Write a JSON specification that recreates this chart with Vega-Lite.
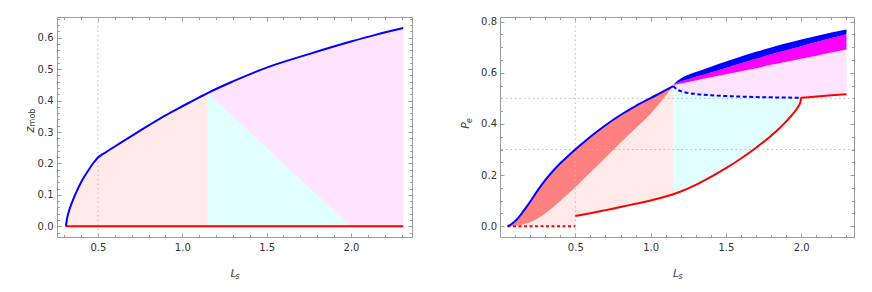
{
"$schema": "https://vega.github.io/schema/vega-lite/v6.json",
"padding": {"left": 22, "top": 16, "right": 0, "bottom": 0},
"background": "white",
"spacing": 88,
"bounds": "flush",
"config": {
  "view": {"stroke": "#9c9c9c", "strokeWidth": 1},
  "axis": {"domain": false, "grid": false, "tickColor": "#9c9c9c", "tickWidth": 1, "labelFont": "DejaVu Sans", "labelFontSize": 10, "labelColor": "#333333", "titleFont": "DejaVu Sans", "titleFontWeight": "normal", "titleFontStyle": "italic", "titleColor": "#444444", "labelFlush": false, "labelOverlap": false},
  "line": {"interpolate": "monotone"},
  "area": {"interpolate": "monotone"}
},
"datasets": {
  "zb": [
    {"Ls":0.31,"z":0},{"Ls":0.315,"z":0.02},{"Ls":0.32,"z":0.033},{"Ls":0.33,"z":0.052},{"Ls":0.34,"z":0.068},{"Ls":0.35,"z":0.082},{"Ls":0.375,"z":0.113},{"Ls":0.4,"z":0.14},{"Ls":0.425,"z":0.163},{"Ls":0.45,"z":0.184},{"Ls":0.475,"z":0.203},{"Ls":0.5,"z":0.219},{"Ls":0.525,"z":0.229},{"Ls":0.55,"z":0.237},{"Ls":0.6,"z":0.254},{"Ls":0.7,"z":0.288},{"Ls":0.8,"z":0.321},{"Ls":0.9,"z":0.353},{"Ls":1.0,"z":0.382},{"Ls":1.1,"z":0.41},{"Ls":1.15,"z":0.424},{"Ls":1.3,"z":0.461},{"Ls":1.5,"z":0.505},{"Ls":1.75,"z":0.548},{"Ls":2.0,"z":0.588},{"Ls":2.15,"z":0.61},{"Ls":2.31,"z":0.631}
  ],
  "zred": [{"Ls":0.31,"v":0},{"Ls":2.31,"v":0}],
  "ztri": [{"Ls":1.15,"v":0.424},{"Ls":2.0,"v":0}],
  "zgrid": [{"g":0.5}],
  "pe": [
    {"Ls":0.05,"b":0,"s":0,"f":0},{"Ls":0.075,"b":0.008,"s":0.0005,"f":0},{"Ls":0.1,"b":0.02,"s":0.002,"f":0},{"Ls":0.125,"b":0.036,"s":0.004,"f":0},{"Ls":0.15,"b":0.055,"s":0.007,"f":0},{"Ls":0.175,"b":0.075,"s":0.011,"f":0},{"Ls":0.2,"b":0.096,"s":0.016,"f":0},{"Ls":0.25,"b":0.14,"s":0.03,"f":0},{"Ls":0.3,"b":0.18,"s":0.05,"f":0},{"Ls":0.35,"b":0.215,"s":0.073,"f":0},{"Ls":0.4,"b":0.246,"s":0.099,"f":0},{"Ls":0.45,"b":0.274,"s":0.125,"f":0},{"Ls":0.5,"b":0.3,"s":0.152,"f":0},{"Ls":0.501,"b":0.3005,"s":0.1526,"f":0.04},{"Ls":0.6,"b":0.35,"s":0.21,"f":0.051},{"Ls":0.7,"b":0.395,"s":0.268,"f":0.063},{"Ls":0.8,"b":0.435,"s":0.326,"f":0.075},{"Ls":0.9,"b":0.47,"s":0.383,"f":0.088},{"Ls":1.0,"b":0.501,"s":0.44,"f":0.101},{"Ls":1.1,"b":0.532,"s":0.51,"f":0.116},{"Ls":1.15,"b":0.548,"s":0.548,"f":0.125}
  ],
  "red": [
    {"Ls":0.5,"r":0.04},{"Ls":0.6,"r":0.051},{"Ls":0.7,"r":0.063},{"Ls":0.8,"r":0.075},{"Ls":0.9,"r":0.088},{"Ls":1.0,"r":0.101},{"Ls":1.1,"r":0.116},{"Ls":1.15,"r":0.125},{"Ls":1.2,"r":0.136},{"Ls":1.3,"r":0.162},{"Ls":1.4,"r":0.193},{"Ls":1.5,"r":0.227},{"Ls":1.6,"r":0.265},{"Ls":1.7,"r":0.307},{"Ls":1.8,"r":0.354},{"Ls":1.85,"r":0.38},{"Ls":1.9,"r":0.41},{"Ls":1.95,"r":0.443},{"Ls":1.98,"r":0.468},{"Ls":1.995,"r":0.487},{"Ls":2.0,"r":0.502},{"Ls":2.1,"r":0.507},{"Ls":2.2,"r":0.512},{"Ls":2.3,"r":0.516}
  ],
  "cyan": [
    {"Ls":1.15,"d":0.548,"r":0.125},{"Ls":1.175,"d":0.535,"r":0.13},{"Ls":1.2,"d":0.528,"r":0.136},{"Ls":1.25,"d":0.521,"r":0.148},{"Ls":1.3,"d":0.517,"r":0.162},{"Ls":1.4,"d":0.512,"r":0.193},{"Ls":1.5,"d":0.509,"r":0.227},{"Ls":1.6,"d":0.507,"r":0.265},{"Ls":1.7,"d":0.505,"r":0.307},{"Ls":1.8,"d":0.504,"r":0.354},{"Ls":1.85,"d":0.5035,"r":0.38},{"Ls":1.9,"d":0.503,"r":0.41},{"Ls":1.95,"d":0.5025,"r":0.443},{"Ls":1.98,"d":0.502,"r":0.468},{"Ls":1.995,"d":0.502,"r":0.487},{"Ls":2.0,"d":0.502,"r":0.502}
  ],
  "upper": [
    {"Ls":1.15,"t":0.552,"m":0.552,"l":0.552,"f":0.548},{"Ls":1.175,"t":0.568,"m":0.56,"l":0.555,"f":0.535},{"Ls":1.2,"t":0.578,"m":0.566,"l":0.558,"f":0.528},{"Ls":1.25,"t":0.592,"m":0.575,"l":0.564,"f":0.521},{"Ls":1.3,"t":0.603,"m":0.584,"l":0.57,"f":0.517},{"Ls":1.4,"t":0.624,"m":0.601,"l":0.582,"f":0.512},{"Ls":1.5,"t":0.644,"m":0.619,"l":0.594,"f":0.509},{"Ls":1.6,"t":0.664,"m":0.637,"l":0.606,"f":0.507},{"Ls":1.7,"t":0.682,"m":0.655,"l":0.618,"f":0.505},{"Ls":1.8,"t":0.699,"m":0.672,"l":0.631,"f":0.504},{"Ls":1.9,"t":0.715,"m":0.688,"l":0.643,"f":0.503},{"Ls":2.0,"t":0.73,"m":0.704,"l":0.655,"f":0.502},{"Ls":2.1,"t":0.744,"m":0.72,"l":0.667,"f":0.507},{"Ls":2.2,"t":0.757,"m":0.736,"l":0.679,"f":0.512},{"Ls":2.3,"t":0.769,"m":0.751,"l":0.691,"f":0.516}
  ],
  "zero": [{"Ls":0.05,"v":0},{"Ls":0.5,"v":0}],
  "pgx": [{"g":0.5}],
  "pgy": [{"g":0.3},{"g":0.5}]
},
"hconcat": [
  {
    "width": 355, "height": 220,
    "resolve": {"axis": {"x": "independent", "y": "independent"}},
    "layer": [
      {
        "data": {"name": "zb"},
        "transform": [{"filter": "datum.Ls <= 1.15"}],
        "mark": {"type": "area", "color": "#ffe9e9"},
        "encoding": {
          "x": {"field": "Ls", "type": "quantitative", "scale": {"domain": [0.257, 2.362], "nice": false, "zero": false},
                "axis": {"orient": "bottom", "values": [0.5, 1, 1.5, 2], "format": ".1f", "ticks": false, "labelPadding": 5, "title": "L", "titleFontSize": 11, "titleX": 176, "titleY": 39, "titleBaseline": "alphabetic", "titleAlign": "center"}},
          "y": {"field": "z", "type": "quantitative", "scale": {"domain": [-0.034, 0.666], "nice": false, "zero": false},
                "axis": {"orient": "left", "values": [0, 0.1, 0.2, 0.3, 0.4, 0.5, 0.6], "format": ".1f", "ticks": false, "labelPadding": 4, "title": "z", "titleFontSize": 12, "titleAngle": 270, "titleX": -24, "titleY": 112, "titleBaseline": "alphabetic", "titleAlign": "center"}},
          "y2": {"datum": 0}
        }
      },
      {
        "data": {"name": "zb"},
        "transform": [{"filter": "datum.Ls >= 1.15"}],
        "mark": {"type": "area", "color": "#ffe3ff"},
        "encoding": {
          "x": {"field": "Ls", "type": "quantitative", "scale": {"domain": [0.257, 2.362], "nice": false, "zero": false},
                "axis": {"orient": "bottom", "values": [0.5, 1, 1.5, 2], "labels": false, "tickSize": -4, "title": "s", "titleFontSize": 8.5, "titleX": 180, "titleY": 41, "titleBaseline": "alphabetic", "titleAlign": "center"}},
          "y": {"field": "z", "type": "quantitative", "scale": {"domain": [-0.034, 0.666], "nice": false, "zero": false},
                "axis": {"orient": "left", "values": [0, 0.1, 0.2, 0.3, 0.4, 0.5, 0.6], "labels": false, "tickSize": -4, "title": "mob", "titleFontStyle": "normal", "titleFontSize": 8, "titleAngle": 270, "titleX": -22.5, "titleY": 100, "titleBaseline": "alphabetic", "titleAlign": "center"}},
          "y2": {"datum": 0}
        }
      },
      {
        "data": {"name": "ztri"},
        "mark": {"type": "area", "color": "#e2ffff", "interpolate": "linear"},
        "encoding": {
          "x": {"field": "Ls", "type": "quantitative", "scale": {"domain": [0.257, 2.362], "nice": false, "zero": false},
                "axis": {"orient": "bottom", "values": [0.3, 0.4, 0.6, 0.7, 0.8, 0.9, 1.1, 1.2, 1.3, 1.4, 1.6, 1.7, 1.8, 1.9, 2.1, 2.2, 2.3], "labels": false, "tickSize": -2.5, "title": null}},
          "y": {"field": "v", "type": "quantitative", "scale": {"domain": [-0.034, 0.666], "nice": false, "zero": false},
                "axis": {"orient": "left", "values": [-0.02, 0.02, 0.04, 0.06, 0.08, 0.12, 0.14, 0.16, 0.18, 0.22, 0.24, 0.26, 0.28, 0.32, 0.34, 0.36, 0.38, 0.42, 0.44, 0.46, 0.48, 0.52, 0.54, 0.56, 0.58, 0.62, 0.64, 0.66], "labels": false, "tickSize": -2.5, "title": null}},
          "y2": {"datum": 0}
        }
      },
      {
        "data": {"name": "zgrid"},
        "mark": {"type": "rule", "color": "#bdbdbd", "strokeWidth": 1, "strokeDash": [1.5, 3]},
        "encoding": {
          "x": {"field": "g", "type": "quantitative", "scale": {"domain": [0.257, 2.362], "nice": false, "zero": false},
                "axis": {"orient": "top", "values": [0.5, 1, 1.5, 2], "labels": false, "tickSize": -4, "title": null}}
        }
      },
      {
        "data": {"name": "zred"},
        "mark": {"type": "line", "color": "#ff0000", "strokeWidth": 2},
        "encoding": {
          "x": {"field": "Ls", "type": "quantitative", "scale": {"domain": [0.257, 2.362], "nice": false, "zero": false},
                "axis": {"orient": "top", "values": [0.3, 0.4, 0.6, 0.7, 0.8, 0.9, 1.1, 1.2, 1.3, 1.4, 1.6, 1.7, 1.8, 1.9, 2.1, 2.2, 2.3], "labels": false, "tickSize": -2.5, "title": null}},
          "y": {"field": "v", "type": "quantitative", "scale": {"domain": [-0.034, 0.666], "nice": false, "zero": false},
                "axis": {"orient": "right", "values": [0, 0.1, 0.2, 0.3, 0.4, 0.5, 0.6], "labels": false, "tickSize": -4, "title": null}}
        }
      },
      {
        "data": {"name": "zb"},
        "mark": {"type": "line", "color": "#0000ff", "strokeWidth": 2},
        "encoding": {
          "x": {"field": "Ls", "type": "quantitative", "scale": {"domain": [0.257, 2.362], "nice": false, "zero": false}, "axis": null},
          "y": {"field": "z", "type": "quantitative", "scale": {"domain": [-0.034, 0.666], "nice": false, "zero": false},
                "axis": {"orient": "right", "values": [-0.02, 0.02, 0.04, 0.06, 0.08, 0.12, 0.14, 0.16, 0.18, 0.22, 0.24, 0.26, 0.28, 0.32, 0.34, 0.36, 0.38, 0.42, 0.44, 0.46, 0.48, 0.52, 0.54, 0.56, 0.58, 0.62, 0.64, 0.66], "labels": false, "tickSize": -2.5, "title": null}}
        }
      }
    ]
  },
  {
    "width": 354, "height": 220,
    "resolve": {"axis": {"x": "independent", "y": "independent"}},
    "layer": [
      {
        "data": {"name": "pe"},
        "mark": {"type": "area", "color": "#ffe9e9"},
        "encoding": {
          "x": {"field": "Ls", "type": "quantitative", "scale": {"domain": [0, 2.35], "nice": false, "zero": false},
                "axis": {"orient": "bottom", "values": [0.5, 1, 1.5, 2], "format": ".1f", "ticks": false, "labelPadding": 5, "title": "L", "titleFontSize": 11, "titleX": 175.5, "titleY": 39, "titleBaseline": "alphabetic", "titleAlign": "center"}},
          "y": {"field": "s", "type": "quantitative", "scale": {"domain": [-0.042, 0.818], "nice": false, "zero": false},
                "axis": {"orient": "left", "values": [0, 0.2, 0.4, 0.6, 0.8], "format": ".1f", "ticks": false, "labelPadding": 3.5, "title": "P", "titleFontSize": 11, "titleAngle": 270, "titleX": -32, "titleY": 108, "titleBaseline": "alphabetic", "titleAlign": "center"}},
          "y2": {"field": "f"}
        }
      },
      {
        "data": {"name": "pe"},
        "mark": {"type": "area", "color": "#ff8080"},
        "encoding": {
          "x": {"field": "Ls", "type": "quantitative", "scale": {"domain": [0, 2.35], "nice": false, "zero": false},
                "axis": {"orient": "bottom", "values": [0.5, 1, 1.5, 2], "labels": false, "tickSize": -4, "title": "s", "titleFontSize": 8.5, "titleX": 180, "titleY": 41, "titleBaseline": "alphabetic", "titleAlign": "center"}},
          "y": {"field": "b", "type": "quantitative", "scale": {"domain": [-0.042, 0.818], "nice": false, "zero": false},
                "axis": {"orient": "left", "values": [0, 0.2, 0.4, 0.6, 0.8], "labels": false, "tickSize": -4, "title": "e", "titleFontSize": 8, "titleAngle": 270, "titleX": -29, "titleY": 103, "titleBaseline": "alphabetic", "titleAlign": "center"}},
          "y2": {"field": "s"}
        }
      },
      {
        "data": {"name": "cyan"},
        "mark": {"type": "area", "color": "#e2ffff"},
        "encoding": {
          "x": {"field": "Ls", "type": "quantitative", "scale": {"domain": [0, 2.35], "nice": false, "zero": false},
                "axis": {"orient": "bottom", "values": [0.1, 0.2, 0.3, 0.4, 0.6, 0.7, 0.8, 0.9, 1.1, 1.2, 1.3, 1.4, 1.6, 1.7, 1.8, 1.9, 2.1, 2.2, 2.3], "labels": false, "tickSize": -2.5, "title": null}},
          "y": {"field": "d", "type": "quantitative", "scale": {"domain": [-0.042, 0.818], "nice": false, "zero": false},
                "axis": {"orient": "left", "values": [0.05, 0.1, 0.15, 0.25, 0.3, 0.35, 0.45, 0.5, 0.55, 0.65, 0.7, 0.75], "labels": false, "tickSize": -2.5, "title": null}},
          "y2": {"field": "r"}
        }
      },
      {
        "data": {"name": "upper"},
        "mark": {"type": "area", "color": "#ffe3ff"},
        "encoding": {
          "x": {"field": "Ls", "type": "quantitative", "scale": {"domain": [0, 2.35], "nice": false, "zero": false},
                "axis": {"orient": "top", "values": [0.5, 1, 1.5, 2], "labels": false, "tickSize": -4, "title": null}},
          "y": {"field": "l", "type": "quantitative", "scale": {"domain": [-0.042, 0.818], "nice": false, "zero": false},
                "axis": {"orient": "right", "values": [0, 0.2, 0.4, 0.6, 0.8], "labels": false, "tickSize": -4, "title": null}},
          "y2": {"field": "f"}
        }
      },
      {
        "data": {"name": "upper"},
        "mark": {"type": "area", "color": "#ff00ff"},
        "encoding": {
          "x": {"field": "Ls", "type": "quantitative", "scale": {"domain": [0, 2.35], "nice": false, "zero": false},
                "axis": {"orient": "top", "values": [0.1, 0.2, 0.3, 0.4, 0.6, 0.7, 0.8, 0.9, 1.1, 1.2, 1.3, 1.4, 1.6, 1.7, 1.8, 1.9, 2.1, 2.2, 2.3], "labels": false, "tickSize": -2.5, "title": null}},
          "y": {"field": "m", "type": "quantitative", "scale": {"domain": [-0.042, 0.818], "nice": false, "zero": false},
                "axis": {"orient": "right", "values": [0.05, 0.1, 0.15, 0.25, 0.3, 0.35, 0.45, 0.5, 0.55, 0.65, 0.7, 0.75], "labels": false, "tickSize": -2.5, "title": null}},
          "y2": {"field": "l"}
        }
      },
      {
        "data": {"name": "upper"},
        "mark": {"type": "area", "color": "#0000ff"},
        "encoding": {
          "x": {"field": "Ls", "type": "quantitative", "scale": {"domain": [0, 2.35], "nice": false, "zero": false}, "axis": null},
          "y": {"field": "t", "type": "quantitative", "scale": {"domain": [-0.042, 0.818], "nice": false, "zero": false}, "axis": null},
          "y2": {"field": "m"}
        }
      },
      {
        "data": {"name": "pgx"},
        "mark": {"type": "rule", "color": "#bdbdbd", "strokeWidth": 1, "strokeDash": [1.5, 3]},
        "encoding": {
          "x": {"field": "g", "type": "quantitative", "scale": {"domain": [0, 2.35], "nice": false, "zero": false}, "axis": null}
        }
      },
      {
        "data": {"name": "pgy"},
        "mark": {"type": "rule", "color": "#bdbdbd", "strokeWidth": 1, "strokeDash": [1.5, 3]},
        "encoding": {
          "y": {"field": "g", "type": "quantitative", "scale": {"domain": [-0.042, 0.818], "nice": false, "zero": false}, "axis": null}
        }
      },
      {
        "data": {"name": "zero"},
        "mark": {"type": "line", "color": "#ff0000", "strokeWidth": 2, "strokeDash": [3, 2.5]},
        "encoding": {
          "x": {"field": "Ls", "type": "quantitative", "scale": {"domain": [0, 2.35], "nice": false, "zero": false}, "axis": null},
          "y": {"field": "v", "type": "quantitative", "scale": {"domain": [-0.042, 0.818], "nice": false, "zero": false}, "axis": null}
        }
      },
      {
        "data": {"name": "red"},
        "mark": {"type": "line", "color": "#ff0000", "strokeWidth": 2},
        "encoding": {
          "x": {"field": "Ls", "type": "quantitative", "scale": {"domain": [0, 2.35], "nice": false, "zero": false}, "axis": null},
          "y": {"field": "r", "type": "quantitative", "scale": {"domain": [-0.042, 0.818], "nice": false, "zero": false}, "axis": null}
        }
      },
      {
        "data": {"name": "cyan"},
        "mark": {"type": "line", "color": "#0000ff", "strokeWidth": 2, "strokeDash": [4, 2.5]},
        "encoding": {
          "x": {"field": "Ls", "type": "quantitative", "scale": {"domain": [0, 2.35], "nice": false, "zero": false}, "axis": null},
          "y": {"field": "d", "type": "quantitative", "scale": {"domain": [-0.042, 0.818], "nice": false, "zero": false}, "axis": null}
        }
      },
      {
        "data": {"name": "pe"},
        "mark": {"type": "line", "color": "#0000ff", "strokeWidth": 2},
        "encoding": {
          "x": {"field": "Ls", "type": "quantitative", "scale": {"domain": [0, 2.35], "nice": false, "zero": false}, "axis": null},
          "y": {"field": "b", "type": "quantitative", "scale": {"domain": [-0.042, 0.818], "nice": false, "zero": false}, "axis": null}
        }
      }
    ]
  }
]
}
